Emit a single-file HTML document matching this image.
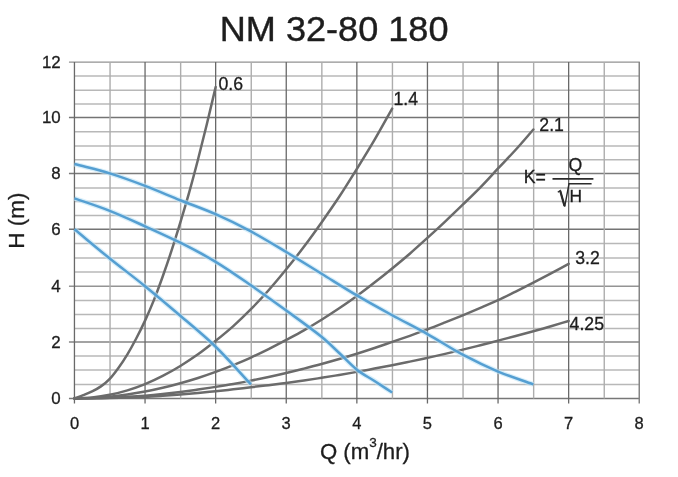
<!DOCTYPE html>
<html><head><meta charset="utf-8"><title>NM 32-80 180</title>
<style>html,body{margin:0;padding:0;background:#fff}svg{display:block}</style></head>
<body>
<svg width="678" height="477" viewBox="0 0 678 477">
<rect width="678" height="477" fill="#fff"/>
<g id="grid" fill="none">
<line x1="68.95" x2="639.25" y1="398.40" y2="398.40" stroke="#777777" stroke-width="1.45"/>
<line x1="74.45" x2="639.25" y1="384.40" y2="384.40" stroke="#b8b8b8" stroke-width="1.5"/>
<line x1="74.45" x2="639.25" y1="370.10" y2="370.10" stroke="#b8b8b8" stroke-width="1.5"/>
<line x1="74.45" x2="639.25" y1="356.10" y2="356.10" stroke="#b8b8b8" stroke-width="1.5"/>
<line x1="68.95" x2="639.25" y1="341.90" y2="341.90" stroke="#858585" stroke-width="1.45"/>
<line x1="74.45" x2="639.25" y1="328.40" y2="328.40" stroke="#b8b8b8" stroke-width="1.5"/>
<line x1="74.45" x2="639.25" y1="314.40" y2="314.40" stroke="#b8b8b8" stroke-width="1.5"/>
<line x1="74.45" x2="639.25" y1="300.60" y2="300.60" stroke="#b8b8b8" stroke-width="1.5"/>
<line x1="68.95" x2="639.25" y1="286.20" y2="286.20" stroke="#949494" stroke-width="1.45"/>
<line x1="74.45" x2="639.25" y1="271.90" y2="271.90" stroke="#b8b8b8" stroke-width="1.5"/>
<line x1="74.45" x2="639.25" y1="257.90" y2="257.90" stroke="#b8b8b8" stroke-width="1.5"/>
<line x1="74.45" x2="639.25" y1="243.60" y2="243.60" stroke="#b8b8b8" stroke-width="1.5"/>
<line x1="68.95" x2="639.25" y1="229.30" y2="229.30" stroke="#747474" stroke-width="1.45"/>
<line x1="74.45" x2="639.25" y1="215.60" y2="215.60" stroke="#b8b8b8" stroke-width="1.5"/>
<line x1="74.45" x2="639.25" y1="201.60" y2="201.60" stroke="#b8b8b8" stroke-width="1.5"/>
<line x1="74.45" x2="639.25" y1="187.90" y2="187.90" stroke="#b8b8b8" stroke-width="1.5"/>
<line x1="68.95" x2="639.25" y1="173.40" y2="173.40" stroke="#7a7a7a" stroke-width="1.45"/>
<line x1="74.45" x2="639.25" y1="159.70" y2="159.70" stroke="#b8b8b8" stroke-width="1.5"/>
<line x1="74.45" x2="639.25" y1="146.10" y2="146.10" stroke="#b8b8b8" stroke-width="1.5"/>
<line x1="74.45" x2="639.25" y1="131.80" y2="131.80" stroke="#b8b8b8" stroke-width="1.5"/>
<line x1="68.95" x2="639.25" y1="117.50" y2="117.50" stroke="#747474" stroke-width="1.45"/>
<line x1="74.45" x2="639.25" y1="104.10" y2="104.10" stroke="#b8b8b8" stroke-width="1.5"/>
<line x1="74.45" x2="639.25" y1="90.20" y2="90.20" stroke="#b8b8b8" stroke-width="1.5"/>
<line x1="74.45" x2="639.25" y1="76.00" y2="76.00" stroke="#b8b8b8" stroke-width="1.5"/>
<line x1="68.95" x2="639.85" y1="62.10" y2="62.10" stroke="#929292" stroke-width="1.45"/>
<line x1="74.45" x2="74.45" y1="62.10" y2="403.40" stroke="#696969" stroke-width="1.3"/>
<line x1="110.05" x2="110.05" y1="62.10" y2="398.40" stroke="#adadad" stroke-width="1.4"/>
<line x1="145.05" x2="145.05" y1="62.10" y2="403.40" stroke="#696969" stroke-width="1.3"/>
<line x1="180.65" x2="180.65" y1="62.10" y2="398.40" stroke="#adadad" stroke-width="1.4"/>
<line x1="215.65" x2="215.65" y1="62.10" y2="403.40" stroke="#696969" stroke-width="1.3"/>
<line x1="251.25" x2="251.25" y1="62.10" y2="398.40" stroke="#adadad" stroke-width="1.4"/>
<line x1="286.25" x2="286.25" y1="62.10" y2="403.40" stroke="#696969" stroke-width="1.3"/>
<line x1="321.85" x2="321.85" y1="62.10" y2="398.40" stroke="#adadad" stroke-width="1.4"/>
<line x1="356.85" x2="356.85" y1="62.10" y2="403.40" stroke="#696969" stroke-width="1.3"/>
<line x1="392.45" x2="392.45" y1="62.10" y2="398.40" stroke="#adadad" stroke-width="1.4"/>
<line x1="427.45" x2="427.45" y1="62.10" y2="403.40" stroke="#696969" stroke-width="1.3"/>
<line x1="463.05" x2="463.05" y1="62.10" y2="398.40" stroke="#adadad" stroke-width="1.4"/>
<line x1="498.05" x2="498.05" y1="62.10" y2="403.40" stroke="#696969" stroke-width="1.3"/>
<line x1="533.65" x2="533.65" y1="62.10" y2="398.40" stroke="#adadad" stroke-width="1.4"/>
<line x1="568.65" x2="568.65" y1="62.10" y2="403.40" stroke="#696969" stroke-width="1.3"/>
<line x1="604.25" x2="604.25" y1="62.10" y2="398.40" stroke="#adadad" stroke-width="1.4"/>
<line x1="639.25" x2="639.25" y1="62.10" y2="403.40" stroke="#858585" stroke-width="1.5"/>
</g>
<g id="kcurves" fill="none" stroke="#6b6b6b" stroke-width="2.5" stroke-linecap="round">
<path d="M74.45 398.40 C77.39 397.33 80.33 396.35 83.28 395.18 C86.22 394.01 89.16 392.87 92.10 391.40 C95.04 389.93 97.98 388.45 100.92 386.36 C103.87 384.27 106.81 381.95 109.75 378.84 C112.69 375.73 115.63 371.80 118.58 367.72 C121.52 363.63 124.46 359.20 127.40 354.33 C130.34 349.45 133.28 344.10 136.22 338.48 C139.17 332.86 142.11 327.01 145.05 320.62 C147.99 314.23 150.93 307.51 153.88 300.15 C156.82 292.79 159.76 284.71 162.70 276.47 C165.64 268.23 168.58 259.70 171.52 250.70 C174.47 241.70 177.41 232.16 180.35 222.45 C183.29 212.74 186.23 202.91 189.18 192.42 C192.12 181.93 195.06 170.88 198.00 159.51 C200.94 148.14 203.88 136.28 206.82 124.20 C209.77 112.13 212.71 99.43 215.65 87.04"/>
<path d="M74.45 398.40 C80.33 398.10 86.22 398.10 92.10 397.51 C97.98 396.91 103.87 396.02 109.75 394.83 C115.63 393.64 121.52 392.15 127.40 390.36 C133.28 388.58 139.17 386.52 145.05 384.11 C150.93 381.70 156.82 378.93 162.70 375.90 C168.58 372.88 174.47 369.55 180.35 365.96 C186.23 362.36 192.12 358.52 198.00 354.33 C203.88 350.13 209.77 345.51 215.65 340.80 C221.53 336.09 227.42 331.35 233.30 326.08 C239.18 320.81 245.07 315.16 250.95 309.19 C256.83 303.22 262.72 296.92 268.60 290.28 C274.48 283.63 280.37 276.58 286.25 269.33 C292.13 262.08 298.02 254.59 303.90 246.77 C309.78 238.96 315.67 230.78 321.55 222.45 C327.43 214.12 333.32 205.73 339.20 196.81 C345.08 187.89 350.97 178.41 356.85 168.93 C362.73 159.45 368.62 149.99 374.50 139.93 C380.38 129.88 386.27 119.05 392.15 108.61"/>
<path d="M74.45 398.40 C80.33 398.27 86.22 398.27 92.10 398.00 C97.98 397.74 103.87 397.38 109.75 396.81 C115.63 396.25 121.52 395.47 127.40 394.60 C133.28 393.73 139.17 392.73 145.05 391.60 C150.93 390.47 156.82 389.20 162.70 387.80 C168.58 386.41 174.47 384.85 180.35 383.21 C186.23 381.56 192.12 379.83 198.00 377.94 C203.88 376.05 209.77 374.01 215.65 371.86 C221.53 369.71 227.42 367.45 233.30 365.06 C239.18 362.67 245.07 360.18 250.95 357.52 C256.83 354.86 262.72 352.03 268.60 349.10 C274.48 346.16 280.37 343.03 286.25 339.90 C292.13 336.77 298.02 333.69 303.90 330.33 C309.78 326.97 315.67 323.40 321.55 319.72 C327.43 316.05 333.32 312.24 339.20 308.29 C345.08 304.34 350.97 300.30 356.85 296.01 C362.73 291.72 368.62 287.16 374.50 282.56 C380.38 277.96 386.27 273.24 392.15 268.43 C398.03 263.61 403.92 258.77 409.80 253.68 C415.68 248.58 421.57 243.22 427.45 237.87 C433.33 232.51 439.22 227.09 445.10 221.55 C450.98 216.01 456.87 210.34 462.75 204.64 C468.63 198.93 474.52 193.33 480.40 187.30 C486.28 181.28 492.17 174.74 498.05 168.48 C503.93 162.22 509.82 156.24 515.70 149.75 C521.58 143.25 527.47 136.25 533.35 129.50"/>
<path d="M74.45 398.40 C80.33 398.34 86.22 398.34 92.10 398.23 C97.98 398.12 103.87 397.94 109.75 397.72 C115.63 397.49 121.52 397.20 127.40 396.86 C133.28 396.52 139.17 396.15 145.05 395.67 C150.93 395.18 156.82 394.60 162.70 393.98 C168.58 393.36 174.47 392.68 180.35 391.95 C186.23 391.21 192.12 390.42 198.00 389.58 C203.88 388.73 209.77 387.80 215.65 386.86 C221.53 385.93 227.42 384.99 233.30 383.96 C239.18 382.92 245.07 381.81 250.95 380.64 C256.83 379.48 262.72 378.26 268.60 376.98 C274.48 375.70 280.37 374.36 286.25 372.96 C292.13 371.57 298.02 370.11 303.90 368.62 C309.78 367.12 315.67 365.60 321.55 364.00 C327.43 362.41 333.32 360.76 339.20 359.05 C345.08 357.33 350.97 355.57 356.85 353.73 C362.73 351.88 368.62 349.97 374.50 348.00 C380.38 346.04 386.27 343.97 392.15 341.94 C398.03 339.91 403.92 337.90 409.80 335.81 C415.68 333.72 421.57 331.61 427.45 329.38 C433.33 327.15 439.22 324.78 445.10 322.43 C450.98 320.08 456.87 317.71 462.75 315.29 C468.63 312.86 474.52 310.41 480.40 307.89 C486.28 305.36 492.17 302.87 498.05 300.15 C503.93 297.43 509.82 294.46 515.70 291.54 C521.58 288.61 527.47 285.63 533.35 282.60 C539.23 279.57 545.12 276.46 551.00 273.35 C556.88 270.23 562.77 267.06 568.65 263.92"/>
<path d="M74.45 398.40 C80.33 398.37 86.22 398.37 92.10 398.30 C97.98 398.24 103.87 398.14 109.75 398.01 C115.63 397.88 121.52 397.72 127.40 397.53 C133.28 397.33 139.17 397.15 145.05 396.85 C150.93 396.55 156.82 396.13 162.70 395.73 C168.58 395.32 174.47 394.88 180.35 394.41 C186.23 393.94 192.12 393.44 198.00 392.90 C203.88 392.37 209.77 391.80 215.65 391.20 C221.53 390.60 227.42 389.97 233.30 389.30 C239.18 388.64 245.07 387.90 250.95 387.21 C256.83 386.52 262.72 385.89 268.60 385.18 C274.48 384.47 280.37 383.73 286.25 382.95 C292.13 382.16 298.02 381.33 303.90 380.48 C309.78 379.62 315.67 378.73 321.55 377.80 C327.43 376.88 333.32 375.92 339.20 374.93 C345.08 373.94 350.97 372.92 356.85 371.87 C362.73 370.81 368.62 369.71 374.50 368.60 C380.38 367.49 386.27 366.37 392.15 365.21 C398.03 364.05 403.92 362.85 409.80 361.62 C415.68 360.40 421.57 359.14 427.45 357.85 C433.33 356.55 439.22 355.23 445.10 353.86 C450.98 352.49 456.87 351.08 462.75 349.64 C468.63 348.20 474.52 346.72 480.40 345.22 C486.28 343.71 492.17 342.13 498.05 340.60 C503.93 339.06 509.82 337.57 515.70 336.01 C521.58 334.45 527.47 332.87 533.35 331.24 C539.23 329.62 545.12 327.99 551.00 326.27 C556.88 324.55 562.77 322.72 568.65 320.94"/>
</g>
<g id="pumpcurves" fill="none" stroke="#559fd2" stroke-width="2.5" stroke-linecap="butt">
<path d="M74.45 164.08 C86.22 167.19 97.98 169.77 109.75 173.40 C121.52 177.03 133.28 181.40 145.05 185.87 C156.82 190.34 168.58 195.51 180.35 200.23 C192.12 204.95 203.88 209.00 215.65 214.20 C227.42 219.40 239.18 225.14 250.95 231.45 C262.72 237.75 274.48 244.98 286.25 252.04 C298.02 259.09 309.78 266.53 321.55 273.76 C333.32 280.99 345.08 288.50 356.85 295.42 C368.62 302.33 380.38 308.80 392.15 315.24 C403.92 321.68 415.68 327.50 427.45 334.07 C439.22 340.64 450.98 348.44 462.75 354.68 C474.52 360.92 486.28 366.58 498.05 371.53 C509.82 376.48 521.58 380.11 533.35 384.40" stroke="#bfe4f7" stroke-opacity="0.6" stroke-width="5"/>
<path d="M74.45 164.08 C86.22 167.19 97.98 169.77 109.75 173.40 C121.52 177.03 133.28 181.40 145.05 185.87 C156.82 190.34 168.58 195.51 180.35 200.23 C192.12 204.95 203.88 209.00 215.65 214.20 C227.42 219.40 239.18 225.14 250.95 231.45 C262.72 237.75 274.48 244.98 286.25 252.04 C298.02 259.09 309.78 266.53 321.55 273.76 C333.32 280.99 345.08 288.50 356.85 295.42 C368.62 302.33 380.38 308.80 392.15 315.24 C403.92 321.68 415.68 327.50 427.45 334.07 C439.22 340.64 450.98 348.44 462.75 354.68 C474.52 360.92 486.28 366.58 498.05 371.53 C509.82 376.48 521.58 380.11 533.35 384.40"/>
<path d="M74.45 198.31 C86.22 202.49 97.98 206.18 109.75 210.84 C121.52 215.50 133.28 220.97 145.05 226.29 C156.82 231.60 168.58 236.82 180.35 242.74 C192.12 248.66 203.88 254.72 215.65 261.82 C227.42 268.92 239.18 277.22 250.95 285.34 C262.72 293.46 274.48 301.96 286.25 310.54 C298.02 319.11 309.78 327.34 321.55 336.77 C327.43 341.49 333.32 347.49 339.20 352.98 C345.08 358.46 350.97 365.01 356.85 369.68 C362.73 374.35 368.62 377.16 374.50 380.97 C380.38 384.77 386.27 388.67 392.15 392.52" stroke="#bfe4f7" stroke-opacity="0.6" stroke-width="5"/>
<path d="M74.45 198.31 C86.22 202.49 97.98 206.18 109.75 210.84 C121.52 215.50 133.28 220.97 145.05 226.29 C156.82 231.60 168.58 236.82 180.35 242.74 C192.12 248.66 203.88 254.72 215.65 261.82 C227.42 268.92 239.18 277.22 250.95 285.34 C262.72 293.46 274.48 301.96 286.25 310.54 C298.02 319.11 309.78 327.34 321.55 336.77 C327.43 341.49 333.32 347.49 339.20 352.98 C345.08 358.46 350.97 365.01 356.85 369.68 C362.73 374.35 368.62 377.16 374.50 380.97 C380.38 384.77 386.27 388.67 392.15 392.52"/>
<path d="M74.45 229.30 C86.22 239.02 97.98 248.98 109.75 258.46 C121.52 267.94 133.28 276.64 145.05 286.20 C156.82 295.76 168.58 305.71 180.35 315.80 C192.12 325.89 203.88 335.29 215.65 346.73 C227.42 358.16 239.18 371.84 250.95 384.40" stroke="#bfe4f7" stroke-opacity="0.6" stroke-width="5"/>
<path d="M74.45 229.30 C86.22 239.02 97.98 248.98 109.75 258.46 C121.52 267.94 133.28 276.64 145.05 286.20 C156.82 295.76 168.58 305.71 180.35 315.80 C192.12 325.89 203.88 335.29 215.65 346.73 C227.42 358.16 239.18 371.84 250.95 384.40"/>
</g>
<g id="labels" font-family="Liberation Sans, Arial, sans-serif" fill="#1d1d1d" stroke="#1d1d1d" stroke-width="0.3">
<text transform="translate(334.1,41.1) scale(1.026,1)" font-size="35.2" stroke="#1d1d1d" stroke-width="0.4" text-anchor="middle">NM 32-80 180</text>
<text x="60.7" y="404.0" font-size="16.9" text-anchor="end">0</text>
<text x="60.7" y="347.5" font-size="16.9" text-anchor="end">2</text>
<text x="60.7" y="291.8" font-size="16.9" text-anchor="end">4</text>
<text x="60.7" y="234.9" font-size="16.9" text-anchor="end">6</text>
<text x="60.7" y="179.0" font-size="16.9" text-anchor="end">8</text>
<text x="60.7" y="123.1" font-size="16.9" text-anchor="end">10</text>
<text x="60.7" y="67.7" font-size="16.9" text-anchor="end">12</text>
<text x="74.5" y="428.7" font-size="16.5" text-anchor="middle">0</text>
<text x="145.1" y="428.7" font-size="16.5" text-anchor="middle">1</text>
<text x="215.6" y="428.7" font-size="16.5" text-anchor="middle">2</text>
<text x="286.2" y="428.7" font-size="16.5" text-anchor="middle">3</text>
<text x="356.8" y="428.7" font-size="16.5" text-anchor="middle">4</text>
<text x="427.4" y="428.7" font-size="16.5" text-anchor="middle">5</text>
<text x="498.0" y="428.7" font-size="16.5" text-anchor="middle">6</text>
<text x="568.6" y="428.7" font-size="16.5" text-anchor="middle">7</text>
<text x="639.2" y="428.7" font-size="16.5" text-anchor="middle">8</text>
<text x="319.9" y="459.4" font-size="22.2">Q (m<tspan font-size="13.5" dy="-12.8">3</tspan><tspan dy="12.8">/hr)</tspan></text>
<text transform="translate(24.1,220.6) rotate(-90)" font-size="22.5" text-anchor="middle">H (m)</text>
<text x="218.5" y="89.5" font-size="17.7">0.6</text>
<text x="393.5" y="104.7" font-size="17.7">1.4</text>
<text x="539.3" y="130.8" font-size="17.7">2.1</text>
<text x="575.2" y="263.7" font-size="17.7">3.2</text>
<text x="569.6" y="329.7" font-size="17.7">4.25</text>
<text x="523.8" y="183.3" font-size="17.7">K=</text>
<text x="575.3" y="170.7" font-size="17.7" text-anchor="middle">Q</text>
<text x="575.8" y="201.8" font-size="17.4" text-anchor="middle">H</text>
</g>
<line x1="552.5" x2="593.4" y1="178.9" y2="178.9" stroke="#2b2b2b" stroke-width="1.9"/>
<path d="M557.8 192.3 L560.2 190.6 L564.7 206.6 L569 183.7 L591.6 183.7" fill="none" stroke="#2b2b2b" stroke-width="1.4" stroke-linejoin="miter"/>
<path d="M560.2 190.8 L564.5 206" fill="none" stroke="#2b2b2b" stroke-width="2.2"/>
</svg>
</body></html>
